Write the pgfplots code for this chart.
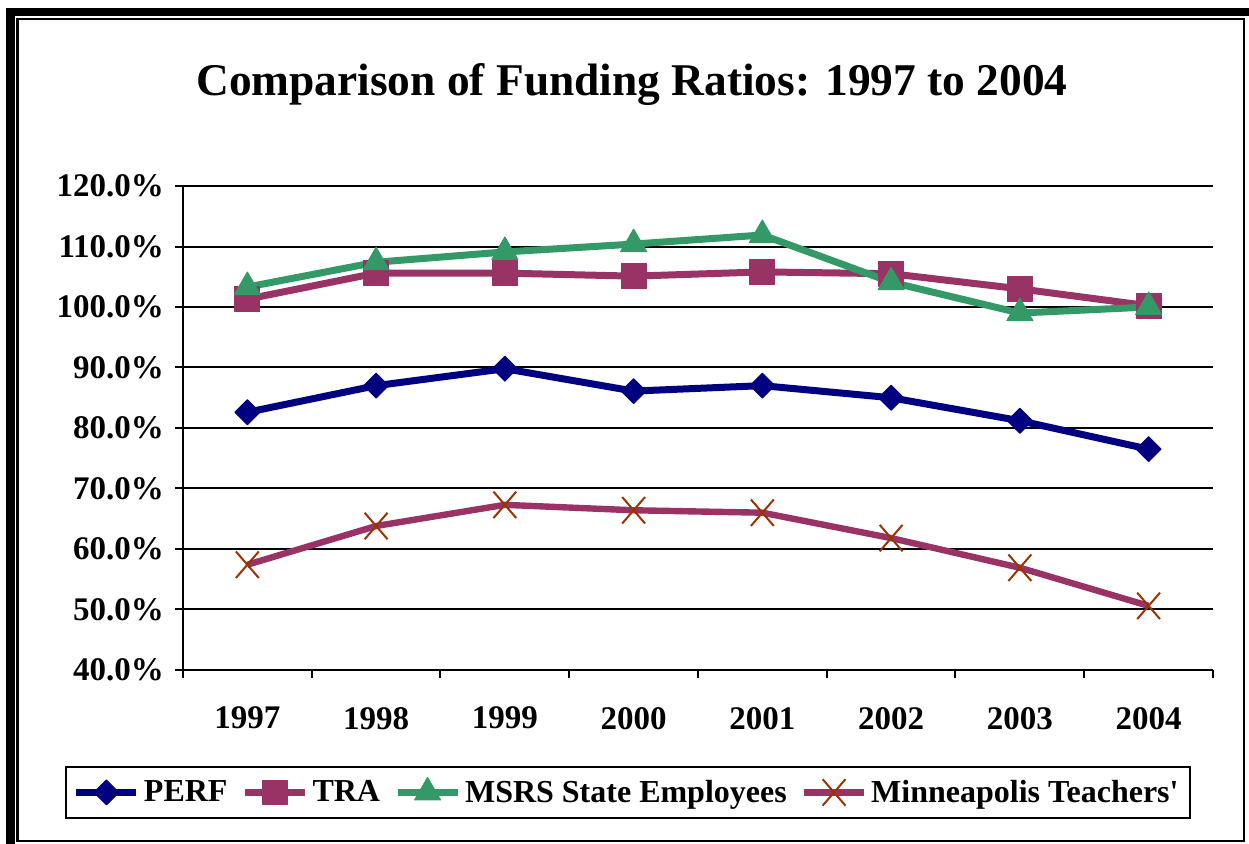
\documentclass[border=0pt]{standalone}
\usepackage{pgfplots}
\pgfplotsset{compat=1.18}
\usepackage{fontspec}
\setmainfont{Liberation Serif}[Ligatures=TeXOff]
\definecolor{perf}{HTML}{000080}
\definecolor{tra}{HTML}{993366}
\definecolor{msrs}{HTML}{339966}
\definecolor{minnmark}{HTML}{993300}
\begin{document}
\begin{tikzpicture}
\useasboundingbox (0,0) rectangle (624.5pt,422pt);
% frame
\fill (3pt,0) rectangle (7.25pt,418pt);
\fill (3pt,414pt) rectangle (624.5pt,418pt);
\draw[line width=1.25pt] (8.75pt,1.5pt) rectangle (622pt,412.5pt);
\node[font=\fontsize{22.7}{27}\selectfont\bfseries] at (316pt,379.5pt) {Comparison of Funding Ratios: 1997 to 2004};
\begin{axis}[
  at={(91.5pt,87pt)}, anchor=south west,
  width=515pt, height=242pt, scale only axis,
  xmin=-0.5, xmax=7.5, ymin=40, ymax=120,
  axis x line*=bottom, axis y line*=left,
  axis line style={line width=1pt},
  xtick={0,...,7}, xticklabels={1997,1998,1999,2000,2001,2002,2003,2004},
  major x tick style={draw=none},
  minor xtick={-0.5,0.5,...,7.5},
  ytick={40,50,...,120},
  /pgf/number format/assume math mode=true,
  yticklabel={\pgfmathprintnumber[fixed,fixed zerofill,precision=1]{\tick}\%},
  tick align=outside, major tick length=4pt, minor tick length=4pt,
  tick style={black,line width=1pt},
  ymajorgrids, grid style={black,line width=1pt},
  ticklabel style={font=\fontsize{16.5}{19}\selectfont\bfseries},
  xticklabel style={yshift=-11pt},
  yticklabel style={xshift=-2pt},
  legend columns=4,
  legend style={at={(-0.1146,-0.198)}, anchor=north west, draw=black, line width=1pt,
    font=\fontsize{16}{19}\selectfont\bfseries, inner ysep=4.5pt, inner xsep=3.5pt,
    /tikz/every odd column/.append style={column sep=0pt},
    /tikz/every even column/.append style={column sep=5pt}},
  legend image code/.code={\draw[mark repeat=2,mark phase=2] plot coordinates {(0pt,0pt) (15pt,0pt) (30pt,0pt)};},
]
\addplot[perf, line width=3.5pt, line join=round, mark=square*, mark size=4.4pt,
  mark options={solid, line width=0.5pt, rotate=45}]
  coordinates {(0,82.6) (1,87.0) (2,89.8) (3,86.1) (4,87.0) (5,85.0) (6,81.2) (7,76.5)};
\addlegendentry{PERF}
\addplot[tra, line width=3.5pt, line join=round, mark=square*, mark size=6.2pt,
  mark options={solid, line width=0.5pt}]
  coordinates {(0,101.3) (1,105.6) (2,105.6) (3,105.1) (4,105.8) (5,105.5) (6,103.0) (7,100.2)};
\addlegendentry{TRA}
\addplot[msrs, line width=3.5pt, line join=round, mark=triangle*, mark size=7.5pt,
  mark options={solid, line width=0.5pt}]
  coordinates {(0,103.3) (1,107.4) (2,109.1) (3,110.4) (4,111.9) (5,104.1) (6,99.0) (7,100.0)};
\addlegendentry{MSRS State Employees}
\addplot[tra, line width=3.2pt, line join=round, mark=x, mark size=8.5pt,
  mark options={solid, draw=minnmark, line width=1pt, yscale=1.1, xscale=0.95}]
  coordinates {(0,57.4) (1,63.8) (2,67.3) (3,66.4) (4,66.0) (5,61.8) (6,56.9) (7,50.6)};
\addlegendentry{Minneapolis Teachers'}
\end{axis}
\end{tikzpicture}
\end{document}
